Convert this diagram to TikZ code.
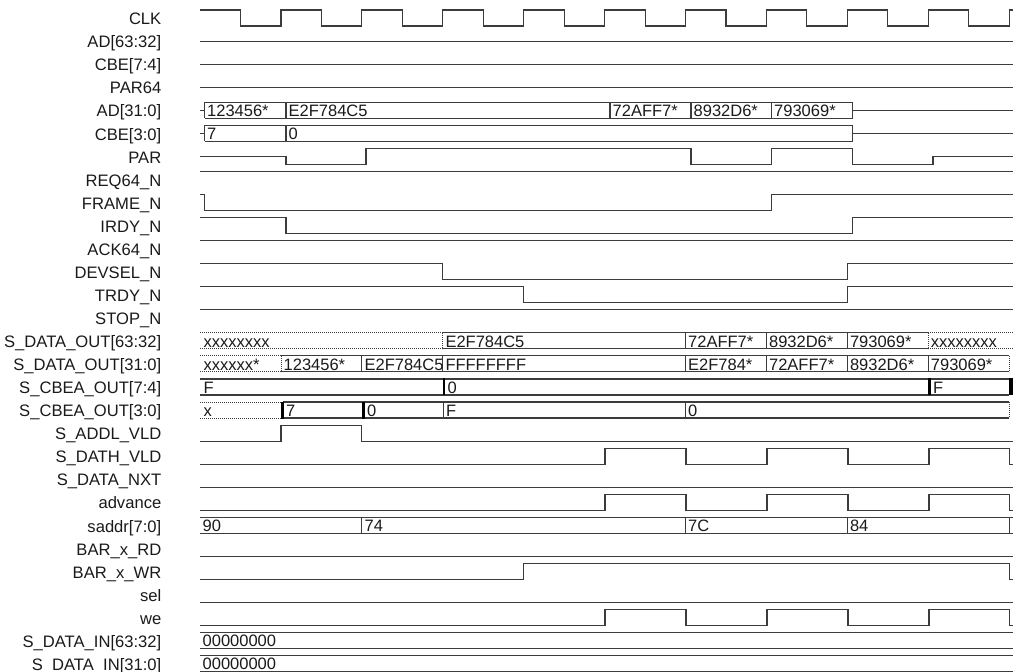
\documentclass[tikz,border=0pt]{standalone}
\usepackage{fontspec}
\setmainfont{Liberation Sans}
\definecolor{wavec}{HTML}{3C3C3C}
\definecolor{textc}{HTML}{1A1A1A}
\begin{document}
\begin{tikzpicture}[x=1pt,y=-1pt,
  wave/.style={draw=wavec,line width=1.1pt},
  zd/.style={draw=wavec,line width=0.9pt,dash pattern=on 0.9pt off 1.1pt},
  tk/.style={draw=black,line width=2.6pt},
  lab/.style={anchor=base east,inner sep=0pt,text=textc,font=\fontsize{16.6}{16.6}\selectfont},
  val/.style={anchor=base west,inner sep=0pt,text=textc,font=\fontsize{16.5}{16.5}\selectfont}]
\useasboundingbox (0,0) rectangle (1013,672);

% Row 0 CLK
\begin{scope}[shift={(0,{18+23.06*0})}]
\node[lab] (n0) at (161.5,6.7) {CLK};
\draw[wave] (200.1,-8) foreach \k in {0,...,9} { -- ({240.55+80.9*\k},-8) -- ({240.55+80.9*\k},8) -- ({281+80.9*\k},8) -- ({281+80.9*\k},-8) } -- (1013,-8);
\end{scope}
% Row 1
\begin{scope}[shift={(0,{18+23.06*1})}]
\node[lab] (n1) at (161.5,6.7) {AD[63:32]};
\draw[wave] (200,0) -- (1013,0);
\end{scope}
% Row 2
\begin{scope}[shift={(0,{18+23.06*2})}]
\node[lab] (n2) at (161.5,6.7) {CBE[7:4]};
\draw[wave] (200,0) -- (1013,0);
\end{scope}
% Row 3
\begin{scope}[shift={(0,{18+23.06*3})}]
\node[lab] (n3) at (161.5,6.7) {PAR64};
\draw[wave] (200,0) -- (1013,0);
\end{scope}
% Row 4 AD[31:0]
\begin{scope}[shift={(0,{18+23.06*4})}]
\node[lab] (n4) at (161.5,6.7) {AD[31:0]};
\draw[wave] (200,0) -- (204.5,0);
\draw[wave] (204.5,-8) -- (852.5,-8) (204.5,8) -- (852.5,8);
\draw[wave] foreach \x in {204.5,286,610,691,771.5,852.5} {(\x,-8) -- (\x,8)};
\draw[wave] (852.5,0) -- (1013,0);
\node[val] at (207,6.3) {123456*};
\node[val] at (288.5,6.3) {E2F784C5};
\node[val] at (612.5,6.3) {72AFF7*};
\node[val] at (693.5,6.3) {8932D6*};
\node[val] at (774,6.3) {793069*};
\end{scope}
% Row 5 CBE[3:0]
\begin{scope}[shift={(0,{18+23.06*5})}]
\node[lab] (n5) at (161.5,6.7) {CBE[3:0]};
\draw[wave] (200,0) -- (204.5,0);
\draw[wave] (204.5,-8) -- (852.5,-8) (204.5,8) -- (852.5,8);
\draw[wave] foreach \x in {204.5,286,852.5} {(\x,-8) -- (\x,8)};
\draw[wave] (852.5,0) -- (1013,0);
\node[val] at (207,6.3) {7};
\node[val] at (288.5,6.3) {0};
\end{scope}
% Row 6 PAR
\begin{scope}[shift={(0,{18+23.06*6})}]
\node[lab] (n6) at (161.5,6.7) {PAR};
\draw[wave] (200,0) -- (286,0) -- (286,8) -- (366,8) -- (366,-8) -- (691,-8) -- (691,8) -- (771.5,8) -- (771.5,-8) -- (852.5,-8) -- (852.5,8) -- (933,8) -- (933,0) -- (1013,0);
\end{scope}
% Row 7 REQ64_N
\begin{scope}[shift={(0,{18+23.06*7})}]
\node[lab] (n7) at (161.5,6.7) {REQ64\_N};
\draw[wave] (200,-8) -- (1013,-8);
\end{scope}
% Row 8 FRAME_N
\begin{scope}[shift={(0,{18+23.06*8})}]
\node[lab] (n8) at (161.5,6.7) {FRAME\_N};
\draw[wave] (200,-8) -- (204.5,-8) -- (204.5,8) -- (771.5,8) -- (771.5,-8) -- (1013,-8);
\end{scope}
% Row 9 IRDY_N
\begin{scope}[shift={(0,{18+23.06*9})}]
\node[lab] (n9) at (161.5,6.7) {IRDY\_N};
\draw[wave] (200,-8) -- (286,-8) -- (286,8) -- (852.5,8) -- (852.5,-8) -- (1013,-8);
\end{scope}
% Row 10 ACK64_N
\begin{scope}[shift={(0,{18+23.06*10})}]
\node[lab] (n10) at (161.5,6.7) {ACK64\_N};
\draw[wave] (200,-8) -- (1013,-8);
\end{scope}
% Row 11 DEVSEL_N
\begin{scope}[shift={(0,{18+23.06*11})}]
\node[lab] (n11) at (161.5,6.7) {DEVSEL\_N};
\draw[wave] (200,-8) -- (442.8,-8) -- (442.8,8) -- (847.3,8) -- (847.3,-8) -- (1013,-8);
\end{scope}
% Row 12 TRDY_N
\begin{scope}[shift={(0,{18+23.06*12})}]
\node[lab] (n12) at (161.5,6.7) {TRDY\_N};
\draw[wave] (200,-8) -- (523.7,-8) -- (523.7,8) -- (847.3,8) -- (847.3,-8) -- (1013,-8);
\end{scope}
% Row 13 STOP_N
\begin{scope}[shift={(0,{18+23.06*13})}]
\node[lab] (n13) at (161.5,6.7) {STOP\_N};
\draw[wave] (200,-8) -- (1013,-8);
\end{scope}
% Row 14 S_DATA_OUT[63:32]
\begin{scope}[shift={(0,{18+23.06*14})}]
\node[lab] (n14) at (161.5,6.7) {S\_DATA\_OUT[63:32]};
\draw[zd] (200,-8) -- (442.8,-8) (200,8) -- (442.8,8) (442.8,-8) -- (442.8,8);
\draw[wave] (442.8,-8) -- (928.2,-8) (442.8,8) -- (928.2,8);
\draw[wave] foreach \x in {685.5,766.4,847.3} {(\x,-8) -- (\x,8)};
\draw[zd] (928.2,-8) -- (1013,-8) (928.2,8) -- (1013,8) (928.2,-8) -- (928.2,8);
\node[val] at (203.5,6.3) {xxxxxxxx};
\node[val] at (445.3,6.3) {E2F784C5};
\node[val] at (688,6.3) {72AFF7*};
\node[val] at (768.9,6.3) {8932D6*};
\node[val] at (849.8,6.3) {793069*};
\node[val] at (930.7,6.3) {xxxxxxxx};
\end{scope}
% Row 15 S_DATA_OUT[31:0]
\begin{scope}[shift={(0,{18+23.06*15})}]
\node[lab] (n15) at (161.5,6.7) {S\_DATA\_OUT[31:0]};
\draw[zd] (200,-8) -- (281,-8) (200,8) -- (281,8) (281,-8) -- (281,8);
\draw[wave] (281,-8) -- (1009.1,-8) (281,8) -- (1009.1,8);
\draw[wave] foreach \x in {361.9,442.8,685.5,766.4,847.3,928.2} {(\x,-8) -- (\x,8)};
\draw[zd] (1009.1,-8) -- (1009.1,8);
\node[val] at (203.5,6.3) {xxxxxx*};
\node[val] at (283.5,6.3) {123456*};
\node[val] at (364.4,6.3) {E2F784C5};
\node[val] at (445.3,6.3) {FFFFFFFF};
\node[val] at (688,6.3) {E2F784*};
\node[val] at (768.9,6.3) {72AFF7*};
\node[val] at (849.8,6.3) {8932D6*};
\node[val] at (930.7,6.3) {793069*};
\end{scope}
% Row 16 S_CBEA_OUT[7:4]
\begin{scope}[shift={(0,{18+23.06*16})}]
\node[lab] (n16) at (161.5,6.7) {S\_CBEA\_OUT[7:4]};
\draw[wave] (200,-8) -- (1009,-8) (200,8) -- (1009,8);
\draw[tk] (444,-8.5) -- (444,8.5) (929.5,-8.5) -- (929.5,8.5);
\fill[black] (1008.5,-8.5) rectangle (1013,8.5);
\node[val] at (203.5,6.3) {F};
\node[val] at (447.5,6.3) {0};
\node[val] at (933,6.3) {F};
\end{scope}
% Row 17 S_CBEA_OUT[3:0]
\begin{scope}[shift={(0,{18+23.06*17})}]
\node[lab] (n17) at (161.5,6.7) {S\_CBEA\_OUT[3:0]};
\draw[zd] (200,-8) -- (282.5,-8) (200,8) -- (282.5,8);
\draw[wave] (282.5,-8) -- (1009.1,-8) (282.5,8) -- (1009.1,8);
\draw[tk] (282.5,-8.5) -- (282.5,8.5) (363.4,-8.5) -- (363.4,8.5);
\draw[wave] foreach \x in {443.5,685.5} {(\x,-8) -- (\x,8)};
\draw[zd] (1009.1,-8) -- (1009.1,8);
\node[val] at (203.5,6.3) {x};
\node[val] at (286,6.3) {7};
\node[val] at (366.9,6.3) {0};
\node[val] at (446,6.3) {F};
\node[val] at (688,6.3) {0};
\end{scope}
% Row 18 S_ADDL_VLD
\begin{scope}[shift={(0,{18+23.06*18})}]
\node[lab] (n18) at (161.5,6.7) {S\_ADDL\_VLD};
\draw[wave] (200,8) -- (281,8) -- (281,-8) -- (361.9,-8) -- (361.9,8) -- (1013,8);
\end{scope}
% Row 19 S_DATH_VLD
\begin{scope}[shift={(0,{18+23.06*19})}]
\node[lab] (n19) at (161.5,6.7) {S\_DATH\_VLD};
\draw[wave] (200,8) -- (605,8) -- (605,-8) -- (686,-8) -- (686,8) -- (767,8) -- (767,-8) -- (848,-8) -- (848,8) -- (929,8) -- (929,-8) -- (1009.6,-8) -- (1009.6,8) -- (1013,8);
\end{scope}
% Row 20 S_DATA_NXT
\begin{scope}[shift={(0,{18+23.06*20})}]
\node[lab] (n20) at (161.5,6.7) {S\_DATA\_NXT};
\draw[wave] (200,8) -- (1013,8);
\end{scope}
% Row 21 advance
\begin{scope}[shift={(0,{18+23.06*21})}]
\node[lab] (n21) at (161.5,6.7) {advance};
\draw[wave] (200,8) -- (605,8) -- (605,-8) -- (686,-8) -- (686,8) -- (767,8) -- (767,-8) -- (848,-8) -- (848,8) -- (929,8) -- (929,-8) -- (1009.6,-8) -- (1009.6,8) -- (1013,8);
\end{scope}
% Row 22 saddr[7:0]
\begin{scope}[shift={(0,{18+23.06*22})}]
\node[lab] (n22) at (161.5,6.7) {saddr[7:0]};
\draw[wave] (200,-8) -- (1013,-8) (200,8) -- (1013,8);
\draw[wave] foreach \x in {361.9,685.5,847.3,1009.1} {(\x,-8) -- (\x,8)};
\node[val] at (202.5,6.3) {90};
\node[val] at (364.4,6.3) {74};
\node[val] at (688,6.3) {7C};
\node[val] at (849.8,6.3) {84};
\end{scope}
% Row 23 BAR_x_RD
\begin{scope}[shift={(0,{18+23.06*23})}]
\node[lab] (n23) at (161.5,6.7) {BAR\_x\_RD};
\draw[wave] (200,8) -- (1013,8);
\end{scope}
% Row 24 BAR_x_WR
\begin{scope}[shift={(0,{18+23.06*24})}]
\node[lab] (n24) at (161.5,6.7) {BAR\_x\_WR};
\draw[wave] (200,8) -- (523.7,8) -- (523.7,-8) -- (1009.3,-8) -- (1009.3,8) -- (1013,8);
\end{scope}
% Row 25 sel
\begin{scope}[shift={(0,{18+23.06*25})}]
\node[lab] (n25) at (161.5,6.7) {sel};
\draw[wave] (200,8) -- (1013,8);
\end{scope}
% Row 26 we
\begin{scope}[shift={(0,{18+23.06*26})}]
\node[lab] (n26) at (161.5,6.7) {we};
\draw[wave] (200,8) -- (605,8) -- (605,-8) -- (686,-8) -- (686,8) -- (767,8) -- (767,-8) -- (848,-8) -- (848,8) -- (929,8) -- (929,-8) -- (1009.6,-8) -- (1009.6,8) -- (1013,8);
\end{scope}
% Row 27 S_DATA_IN[63:32]
\begin{scope}[shift={(0,{18+23.06*27})}]
\node[lab] (n27) at (161.5,6.7) {S\_DATA\_IN[63:32]};
\draw[wave] (200,-8) -- (1013,-8) (200,8) -- (1013,8);
\node[val] at (202.5,6.3) {00000000};
\end{scope}
% Row 28 S_DATA_IN[31:0]
\begin{scope}[shift={(0,{18+23.06*28})}]
\node[lab] (n28) at (161.5,6.7) {S\_DATA\_IN[31:0]};
\draw[wave] (200,-8) -- (1013,-8) (200,8) -- (1013,8);
\node[val] at (202.5,6.3) {00000000};
\end{scope}
\end{tikzpicture}
\end{document}
